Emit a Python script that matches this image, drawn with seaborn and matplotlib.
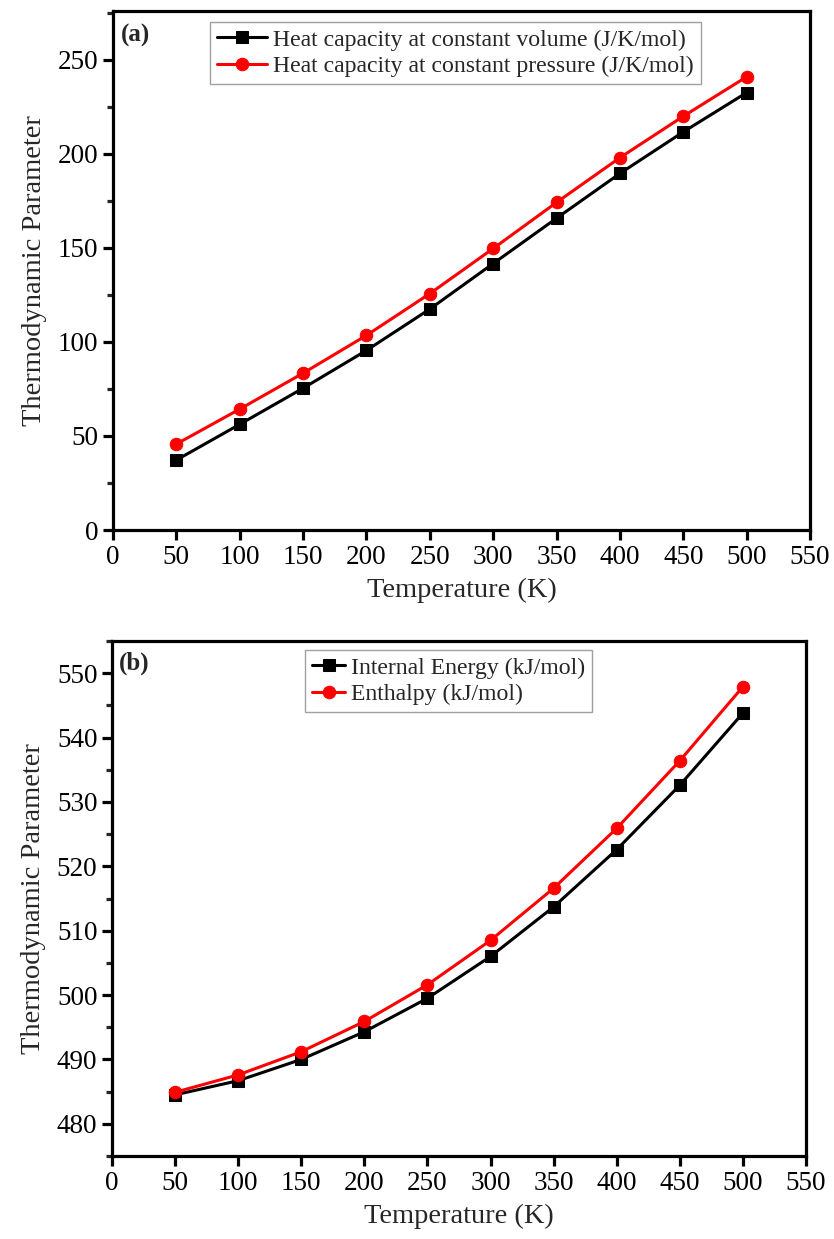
import numpy as np
import pandas as pd
import matplotlib
matplotlib.use("Agg")
import matplotlib.pyplot as plt
from matplotlib.ticker import MultipleLocator
import seaborn as sns

# ---- data ----
temperature = [50, 100, 150, 200, 250, 300, 350, 400, 450, 500]
cv = [37.2, 56.2, 75.4, 95.5, 117.5, 141.7, 165.8, 189.6, 211.7, 232.6]
cp = [45.7, 64.3, 83.4, 103.5, 125.7, 149.7, 174.2, 198.0, 220.0, 241.0]
internal_energy = [484.5, 486.7, 490.0, 494.3, 499.5, 506.0, 513.7, 522.6, 532.6, 543.8]
enthalpy = [484.9, 487.6, 491.2, 495.9, 501.6, 508.5, 516.6, 525.9, 536.4, 547.9]

label_cv = "Heat capacity at constant volume (J/K/mol)"
label_cp = "Heat capacity at constant pressure (J/K/mol)"
label_u = "Internal Energy (kJ/mol)"
label_h = "Enthalpy (kJ/mol)"
xlabel = "Temperature (K)"
ylabel = "Thermodynamic Parameter"

sns.set_theme(style="white")
plt.rcParams['font.family'] = ['Liberation Serif', 'DejaVu Serif']
plt.rcParams['mathtext.fontset'] = 'stix'

fig = plt.figure(figsize=(8.34, 12.39), dpi=100)
W, H = 834, 1239

def make_axes(l, r, t, b):
    return fig.add_axes([l / W, 1 - b / H, (r - l) / W, (b - t) / H])

ax_a = make_axes(113, 810, 11, 530)
ax_b = make_axes(112, 806, 641, 1156)

def style(ax):
    for s in ax.spines.values():
        s.set_linewidth(2.3)
        s.set_color('black')
    ax.tick_params(axis='both', which='major', direction='out', length=7, width=2.3,
                   labelsize=19.5, colors='black', bottom=True, left=True, top=False, right=False)
    ax.tick_params(axis='y', which='minor', direction='out', length=4, width=2.3, left=True)
    ax.tick_params(axis='x', which='minor', bottom=False)
    ax.set_xlim(0, 550)
    ax.xaxis.set_major_locator(MultipleLocator(50))
    ax.set_xlabel(xlabel, fontsize=20.5, labelpad=6)
    ax.set_ylabel(ylabel, fontsize=20.5, labelpad=8)

def plot_pair(ax, y1, y2, l1, l2):
    df1 = pd.DataFrame({"T": temperature, "v": y1})
    df2 = pd.DataFrame({"T": temperature, "v": y2})
    sns.lineplot(data=df1, x="T", y="v", ax=ax, color='black', marker='s', markersize=8,
                 markeredgecolor='black', linewidth=2.2, label=l1)
    sns.lineplot(data=df2, x="T", y="v", ax=ax, color='#ff0000', marker='o', markersize=9,
                 markeredgecolor='#ff0000', linewidth=2.2, label=l2)

plot_pair(ax_a, cv, cp, label_cv, label_cp)
plot_pair(ax_b, internal_energy, enthalpy, label_u, label_h)

style(ax_a)
style(ax_b)

ax_a.set_ylim(0, 276)
ax_a.yaxis.set_major_locator(MultipleLocator(50))
ax_a.yaxis.set_minor_locator(MultipleLocator(25))

ax_b.set_ylim(475, 555)
ax_b.yaxis.set_major_locator(MultipleLocator(10))
ax_b.yaxis.set_minor_locator(MultipleLocator(5))

for ax, anchor, hl in ((ax_a, (0.139, 0.979), 2.1), (ax_b, (0.278, 0.983), 1.4)):
    leg = ax.legend(loc='upper left', bbox_to_anchor=anchor, borderaxespad=0,
                    fontsize=17.1, frameon=True, fancybox=False, handlelength=hl,
                    handletextpad=0.25, borderpad=0.3, labelspacing=0.2, edgecolor='#888888')
    leg.get_frame().set_linewidth(1.0)

ax_a.text(0.012, 0.975, "(a)", transform=ax_a.transAxes, fontsize=18, fontweight='bold',
          va='top', ha='left')
ax_b.text(0.01, 0.98, "(b)", transform=ax_b.transAxes, fontsize=18, fontweight='bold',
          va='top', ha='left')

fig.savefig("out.png", dpi=100, facecolor='white')
